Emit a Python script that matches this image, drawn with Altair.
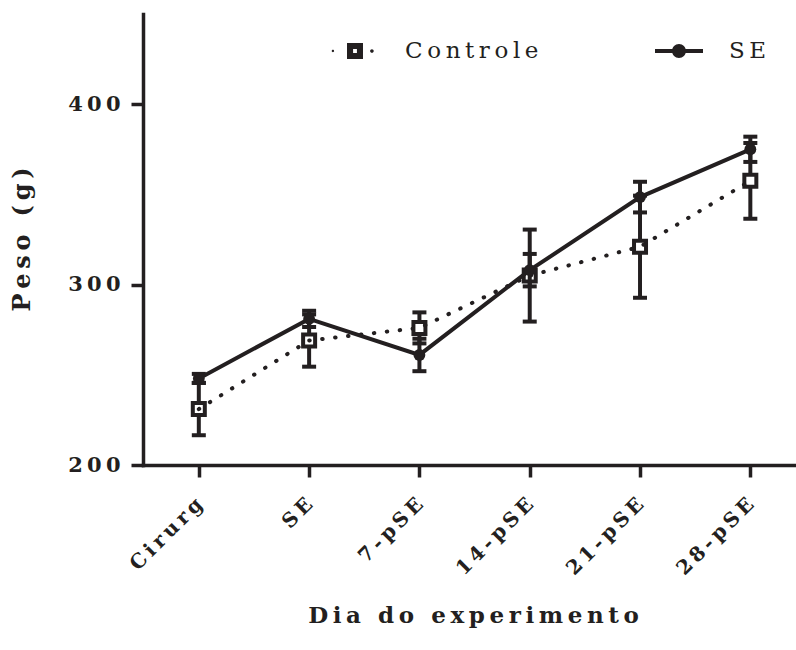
import altair as alt
import pandas as pd

# Body weight (g) per experiment day, mean ± SEM
categories = ["Cirurg", "SE", "7-pSE", "14-pSE", "21-pSE", "28-pSE"]
series = ["Controle", "SE"]
controle_mean = [231, 269, 276, 305, 321, 357.5]
controle_sem = [14.5, 14.5, 8.6, 25.5, 28.3, 21]
se_mean = [248, 281, 261, 308, 348.5, 375]
se_sem = [2.5, 4.5, 9, 9, 8.5, 7]

INK = "#231f20"
TRACK = "\u2009"  # thin space used as letter tracking


def tracked(text):
    return (TRACK + " " + TRACK).join(TRACK.join(word) for word in text.split(" "))


rows = []
for name, means, sems in [("Controle", controle_mean, controle_sem), ("SE", se_mean, se_sem)]:
    for i, (cat, m, s) in enumerate(zip(categories, means, sems)):
        rows.append({"idx": i, "cat": cat, "series": name, "mean": m, "lo": m - s, "hi": m + s})
df = pd.DataFrame(rows)

label_lookup = "[" + ",".join("'" + tracked(c) + "'" for c in categories) + "][datum.value]"

x_enc = alt.X(
    "idx:Q",
    scale=alt.Scale(domain=[-0.506, 5.414], nice=False, zero=False),
    axis=alt.Axis(
        values=list(range(len(categories))),
        labelExpr=label_lookup,
        labelAngle=-45,
        labelAlign="right",
        labelBaseline="middle",
        labelPadding=24,
        labelFontSize=20,
        title=tracked("Dia do experimento"),
        titleX=330,
        titleY=150,
        titleBaseline="middle",
        titleAlign="center",
    ),
)
y_scale = alt.Scale(domain=[200, 450], nice=False, zero=False)
y_enc = alt.Y(
    "mean:Q",
    scale=y_scale,
    axis=alt.Axis(
        values=[200, 300, 400],
        labelExpr="join(split(datum.label, ''), '" + TRACK + "')",
        labelPadding=11,
        labelFontSize=21,
        title=tracked("Peso (g)"),
        titleX=-121,
        titleY=225,
        titleAngle=-90,
        titleBaseline="middle",
        titleAlign="center",
        titleFontSize=24,
    ),
)

base = alt.Chart(df)


def group(name):
    return base.transform_filter(alt.datum.series == name)


def error_layers(name):
    g = group(name)
    bar = g.mark_rule(color=INK, strokeWidth=4).encode(
        x=x_enc, y=alt.Y("lo:Q", scale=y_scale), y2="hi:Q"
    )
    cap_lo = g.mark_tick(color=INK, orient="horizontal", size=14, thickness=4, opacity=1).encode(
        x=x_enc, y=alt.Y("lo:Q", scale=y_scale)
    )
    cap_hi = g.mark_tick(color=INK, orient="horizontal", size=14, thickness=4, opacity=1).encode(
        x=x_enc, y=alt.Y("hi:Q", scale=y_scale)
    )
    return [bar, cap_lo, cap_hi]


ctrl_squares = group("Controle").mark_point(
    shape="square", size=144, fill="white", fillOpacity=1, stroke=INK, strokeWidth=4, opacity=1
).encode(x=x_enc, y=y_enc)
ctrl_line = group("Controle").mark_line(
    color=INK, strokeWidth=4, strokeDash=[0.5, 12.5], strokeCap="round"
).encode(x=x_enc, y=y_enc)

se_line = group("SE").mark_line(color=INK, strokeWidth=4).encode(x=x_enc, y=y_enc)
se_circles = group("SE").mark_circle(color=INK, size=140, opacity=1).encode(x=x_enc, y=y_enc)

# Legend glyphs as custom symbol paths (unit box = 48 px)
square_glyph = (
    "M-0.333,-0.333L0.333,-0.333L0.333,0.333L-0.333,0.333Z"
    "M-0.08,-0.08L-0.08,0.08L0.08,0.08L0.08,-0.08Z"
    "M-0.97,0A0.05,0.05 0 1,1 -0.87,0A0.05,0.05 0 1,1 -0.97,0Z"
    "M0.63,0A0.075,0.075 0 1,1 0.78,0A0.075,0.075 0 1,1 0.63,0Z"
)
circle_glyph = (
    "M-1,-0.083L1,-0.083L1,0.083L-1,0.083Z"
    "M-0.29,0A0.29,0.29 0 1,1 0.29,0A0.29,0.29 0 1,1 -0.29,0Z"
)

legend_layer = base.transform_filter(alt.datum.idx == 0).mark_point(
    filled=True, color=INK, opacity=0, strokeWidth=0
).encode(
    x=x_enc,
    y=y_enc,
    shape=alt.Shape(
        "series:N",
        scale=alt.Scale(domain=series, range=[square_glyph, circle_glyph]),
        legend=alt.Legend(
            title=None,
            orient="none",
            legendX=188,
            legendY=13,
            direction="horizontal",
            columns=2,
            columnPadding=116,
            symbolSize=2304,
            symbolOpacity=1,
            symbolStrokeWidth=0,
            symbolFillColor=INK,
            labelOffset=26,
            labelFont="DejaVu Serif",
            labelFontSize=23,
            labelFontWeight="normal",
            labelColor=INK,
            labelExpr="join(split(datum.label, ''), '" + TRACK + "')",
            padding=0,
        ),
    ),
)

layers = (
    error_layers("Controle")
    + [ctrl_squares, ctrl_line]
    + error_layers("SE")
    + [se_line, se_circles, legend_layer]
)

chart = (
    alt.layer(*layers)
    .properties(
        width=653,
        height=451,
        autosize=alt.AutoSizeParams(type="none"),
        padding={"left": 143, "top": 14, "right": 0, "bottom": 185},
    )
    .configure_view(stroke=None)
    .configure_axis(
        grid=False,
        domainColor=INK,
        domainWidth=3.5,
        domainCap="square",
        tickColor=INK,
        tickWidth=3.5,
        tickSize=12,
        labelFont="DejaVu Serif",
        labelFontWeight="bold",
        labelColor=INK,
        titleFont="DejaVu Serif",
        titleFontWeight="bold",
        titleFontSize=23,
        titleColor=INK,
    )
)

chart.save("out.html", embed_options={"renderer": "svg", "actions": False})
